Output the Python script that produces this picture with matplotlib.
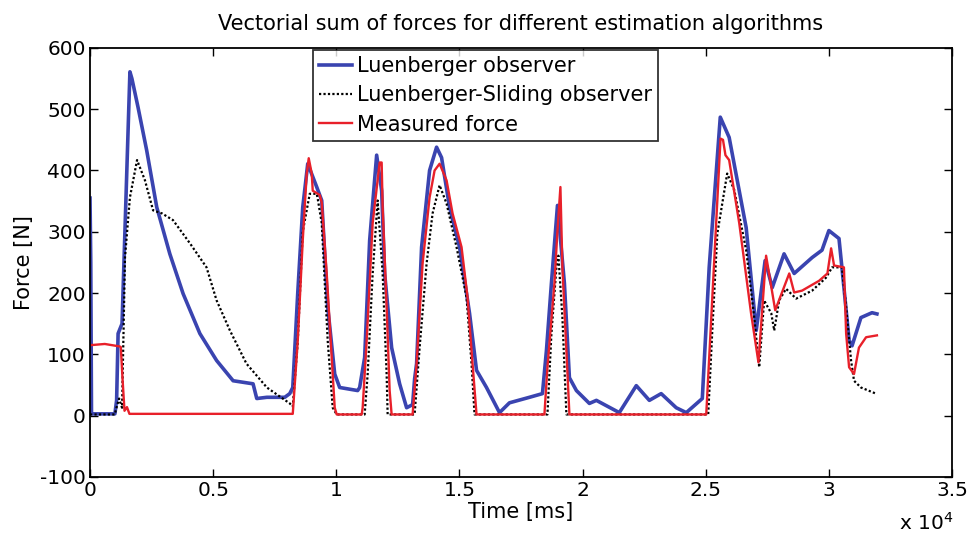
import matplotlib
matplotlib.use("Agg")
import matplotlib.pyplot as plt
from matplotlib.ticker import FuncFormatter

# Measured force (red)
t_meas = [0, 600, 1200, 1250, 1320, 1400, 1500, 1600, 1800, 8232,
          8434, 8637, 8799, 8880, 9002, 9043, 9326, 9408, 9610, 9813, 9935, 10016,
          11030, 11070, 11232, 11476, 11760, 11841, 11881, 12043, 12165, 12246,
          13098, 13260, 13503, 13787, 13990, 14193, 14476, 14720, 15085, 15328, 15531, 15693,
          18450, 18572, 18856, 18977, 19099, 19180, 19342, 19464,
          25020, 25260, 25470, 25600, 25700, 25800, 25950, 26360, 26840, 27140, 27450,
          27820, 28390, 28590, 28910, 29600, 29940, 30090, 30210, 30610, 30700, 30820,
          31020, 31220, 31510, 31950]
f_meas = [115, 117, 113, 112, 60, 8, 14, 3, 3, 3,
          122, 286, 395, 420, 395, 367, 360, 348, 232, 95, 13, 2,
          2, 13, 122, 314, 413, 413, 340, 177, 41, 2,
          2, 85, 248, 356, 400, 411, 384, 330, 275, 193, 85, 2,
          2, 79, 216, 300, 373, 242, 106, 2,
          2, 188, 351, 452, 450, 425, 417, 314, 167, 87, 261,
          172, 232, 201, 204, 220, 232, 273, 245, 242, 134, 79,
          68, 111, 128, 131]

# Luenberger observer (blue)
t_lue = [0, 30, 60, 1010, 1080, 1140, 1300, 1620, 1700, 1950, 2300, 2710,
         3240, 3780, 4460, 5140, 5810, 6620, 6770, 7180, 7907, 8110, 8232, 8434, 8637,
         8840, 9205, 9408, 9651, 9935, 10137, 10867, 10948, 11151, 11354, 11638, 11841,
         11962, 12246, 12571, 12854, 13098, 13179, 13260, 13463, 13787, 14071, 14274,
         14598, 15004, 15409, 15693, 16098, 16626, 17030, 17842, 18369, 18531, 18734,
         18980, 19261, 19464, 19748, 20275, 20560, 21490, 22180, 22710, 23190, 23800,
         24210, 24860, 25140, 25590, 25950, 26640, 27050, 27410, 27700, 28180, 28590,
         29320, 29720, 30000, 30410, 30610, 30820, 30940, 31300, 31750, 31950]
f_lue = [355, 250, 3, 3, 25, 134, 150, 561, 550, 503, 433, 340,
         264, 199, 134, 90, 57, 52, 28, 30, 30, 36, 46, 200, 340,
         411, 373, 351, 177, 68, 46, 41, 46, 95, 286, 425, 367,
         232, 111, 52, 13, 18, 60, 85, 275, 400, 438, 421,
         340, 275, 167, 74, 46, 5, 21, 30, 36, 106, 216,
         343, 216, 62, 41, 20, 25, 5, 49, 25, 36, 13,
         5, 28, 242, 487, 454, 307, 139, 253, 209, 264, 232,
         258, 270, 302, 289, 209, 123, 114, 160, 168, 166]

# Luenberger-Sliding observer (black dotted)
t_ls = [0, 1000, 1180, 1300, 1420, 1620, 1910, 2230, 2560, 2920, 3370, 4060, 4730,
        5140, 5680, 6350, 7180, 8110, 8232, 8434, 8637, 8921, 9205, 9245, 9408, 9651,
        9854, 10016, 11151, 11273, 11476, 11678, 11881, 12043, 12084, 13179, 13382,
        13665, 13909, 14193, 14476, 14882, 15287, 15490, 15612, 18572, 18734, 18937,
        19018, 19180, 19342, 25100, 25260, 25470, 25870, 26160, 26640, 26970, 27170,
        27370, 27660, 27780, 27980, 28260, 28670, 29320, 29880, 30130, 30530, 30700,
        30900, 31020, 31300, 31910]
f_ls = [2, 2, 28, 13, 258, 356, 417, 384, 335, 330, 319, 281, 242,
        188, 139, 85, 46, 20, 15, 120, 300, 362, 362, 354, 314, 122,
        13, 2, 2, 68, 232, 351, 232, 68, 2, 2, 111,
        248, 330, 376, 346, 275, 193, 85, 2, 2, 134, 242,
        261, 160, 2, 2, 134, 297, 395, 368, 270, 160, 79,
        188, 167, 139, 188, 207, 191, 204, 225, 242, 242, 177,
        90, 57, 46, 36]

xticks = [0, 5000, 10000, 15000, 20000, 25000, 30000, 35000]
yticks = [-100, 0, 100, 200, 300, 400, 500, 600]

plt.rcParams['font.family'] = ['DejaVu Sans']
plt.rcParams['axes.unicode_minus'] = False
fig = plt.figure(figsize=(9.69, 5.38), dpi=100)
ax = fig.add_axes([0.0929, 0.1134, 0.8896, 0.7976])

ax.plot(t_lue, f_lue, color='#3a44b0', lw=2.6, label='Luenberger observer')
ax.plot(t_ls, f_ls, color='black', lw=1.6, ls=(0, (1, 1)), label='Luenberger-Sliding observer')
ax.plot(t_meas, f_meas, color='#e8202a', lw=1.7, label='Measured force')

ax.set_xlim(0, 35000)
ax.set_ylim(-100, 600)
ax.set_xticks(xticks)
ax.set_yticks(yticks)
ax.xaxis.set_major_formatter(FuncFormatter(lambda v, p: ('%g' % (v / 1e4))))
ax.tick_params(direction='in', top=True, right=True, labelsize=14.5, length=6, width=1, pad=3)
for s in ax.spines.values():
    s.set_linewidth(1.3)

ax.set_title('Vectorial sum of forces for different estimation algorithms', fontsize=15, pad=13)
ax.set_xlabel('Time [ms]', fontsize=15, labelpad=1)
ax.set_ylabel('Force [N]', fontsize=15, labelpad=4)
fig.text(0.928, 0.008, r'x 10$^4$', fontsize=14.5, ha='left', va='bottom')

leg = ax.legend(loc='upper left', bbox_to_anchor=(0.2587, 0.996), fontsize=15,
                frameon=True, fancybox=False, edgecolor='black', borderpad=0.3,
                handlelength=1.55, handletextpad=0.25, labelspacing=0.45, borderaxespad=0)
leg.get_frame().set_linewidth(1.3)

fig.savefig('out.png', dpi=100)
